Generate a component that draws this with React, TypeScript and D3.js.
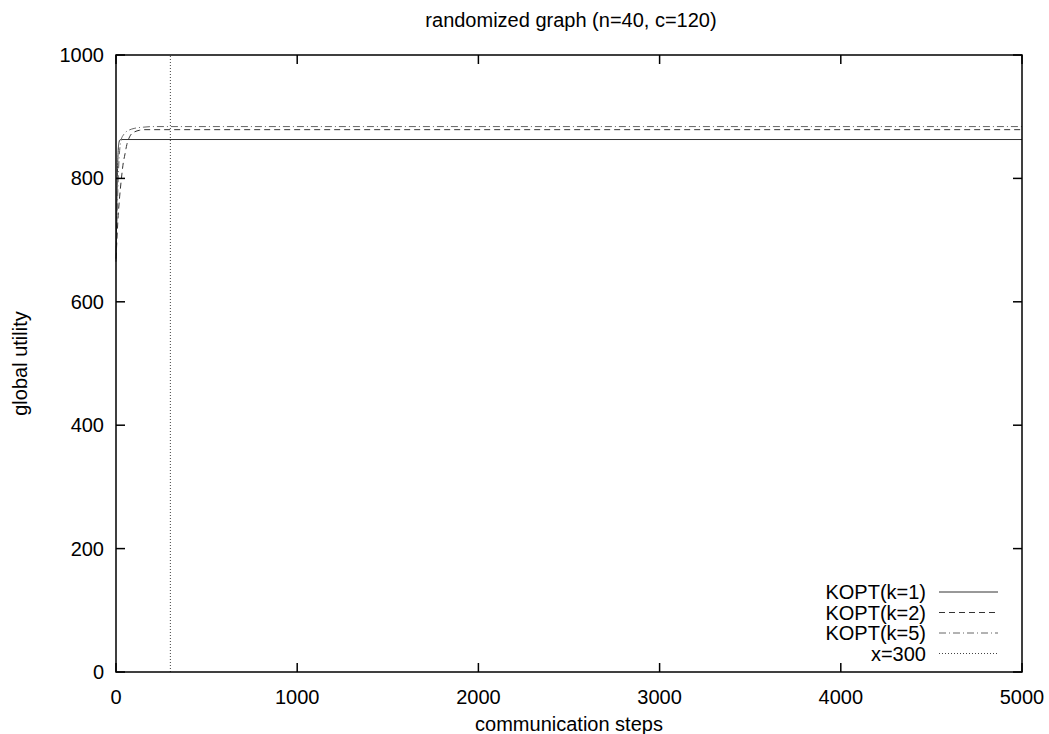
import React, { useEffect, useRef } from "react";
import * as d3 from "d3";

// communication step / global utility samples
const k1Steps = [0, 2, 4, 6, 8, 10, 12, 14, 17, 20, 25, 30, 5000];
const k1Values = [665, 700, 740, 780, 810, 830, 845, 853, 859, 862, 863, 863, 863];
const k2Steps = [0, 5, 10, 20, 30, 40, 50, 55, 60, 70, 80, 100, 130, 160, 5000];
const k2Values = [670, 700, 730, 770, 800, 825, 840, 848, 855, 864, 870, 875, 878, 879, 879];
const k5Steps = [0, 5, 10, 15, 20, 25, 30, 40, 50, 70, 100, 150, 200, 5000];
const k5Values = [680, 730, 780, 820, 845, 857, 864, 870, 874, 878, 881, 883, 884, 884];
const cutoff = 300;

const xTicks = [0, 1000, 2000, 3000, 4000, 5000];
const yTicks = [0, 200, 400, 600, 800, 1000];

const seriesList = [
  { label: "KOPT(k=1)", steps: k1Steps, values: k1Values, dash: null, color: "#333" },
  { label: "KOPT(k=2)", steps: k2Steps, values: k2Values, dash: "6,4", color: "#333" },
  { label: "KOPT(k=5)", steps: k5Steps, values: k5Values, dash: "7,3,1,3", color: "#666" },
];

export default function App() {
  const svgRef = useRef<SVGSVGElement>(null);

  useEffect(() => {
    const W = 1049;
    const H = 734;
    const m = { left: 116, right: 1022, top: 55, bottom: 672 };
    const font = "'Liberation Sans', Arial, sans-serif";
    const fs = 20;

    d3.select(svgRef.current).selectAll("*").remove();
    const svg = d3
      .select(svgRef.current)
      .attr("width", W)
      .attr("height", H)
      .style("font-family", font);

    const x = d3.scaleLinear().domain([0, 5000]).range([m.left, m.right]);
    const y = d3.scaleLinear().domain([0, 1000]).range([m.bottom, m.top]);

    svg.append("rect").attr("width", W).attr("height", H).attr("fill", "#fff");

    // x = 300 marker
    svg
      .append("line")
      .attr("x1", x(cutoff))
      .attr("x2", x(cutoff))
      .attr("y1", y(0))
      .attr("y2", y(1000))
      .attr("stroke", "#444")
      .attr("stroke-dasharray", "1,2");

    seriesList.forEach((s) => {
      const gen = d3
        .line<number>()
        .x((d, i) => x(s.steps[i]))
        .y((d) => y(d))
        .curve(d3.curveMonotoneX);
      svg
        .append("path")
        .attr("d", gen(s.values))
        .attr("fill", "none")
        .attr("stroke", s.color)
        .attr("stroke-width", 1)
        .attr("stroke-dasharray", s.dash);
    });

    // frame
    svg
      .append("rect")
      .attr("x", m.left)
      .attr("y", m.top)
      .attr("width", m.right - m.left)
      .attr("height", m.bottom - m.top)
      .attr("fill", "none")
      .attr("stroke", "#000")
      .attr("stroke-width", 1.5);

    const tl = 9;
    // ticks go inward and are mirrored on top and right
    xTicks.forEach((t) => {
      svg.append("line").attr("x1", x(t)).attr("x2", x(t)).attr("y1", m.bottom).attr("y2", m.bottom - tl).attr("stroke", "#000").attr("stroke-width", 1.5);
      svg.append("line").attr("x1", x(t)).attr("x2", x(t)).attr("y1", m.top).attr("y2", m.top + tl).attr("stroke", "#000").attr("stroke-width", 1.5);
      svg
        .append("text")
        .attr("x", x(t))
        .attr("y", m.bottom + 32)
        .attr("text-anchor", "middle")
        .attr("font-size", fs)
        .text(t);
    });
    yTicks.forEach((t) => {
      svg.append("line").attr("x1", m.left).attr("x2", m.left + tl).attr("y1", y(t)).attr("y2", y(t)).attr("stroke", "#000").attr("stroke-width", 1.5);
      svg.append("line").attr("x1", m.right).attr("x2", m.right - tl).attr("y1", y(t)).attr("y2", y(t)).attr("stroke", "#000").attr("stroke-width", 1.5);
      svg
        .append("text")
        .attr("x", m.left - 12)
        .attr("y", y(t) + 7)
        .attr("text-anchor", "end")
        .attr("font-size", fs)
        .text(t);
    });

    svg
      .append("text")
      .attr("x", (m.left + m.right) / 2 + 2)
      .attr("y", 27)
      .attr("text-anchor", "middle")
      .attr("font-size", fs)
      .text("randomized graph (n=40, c=120)");

    svg
      .append("text")
      .attr("x", (m.left + m.right) / 2)
      .attr("y", 731)
      .attr("text-anchor", "middle")
      .attr("font-size", fs)
      .text("communication steps");

    svg
      .append("text")
      .attr("transform", `translate(27,${(m.top + m.bottom) / 2}) rotate(-90)`)
      .attr("text-anchor", "middle")
      .attr("font-size", fs)
      .text("global utility");

    // legend
    const legend = [
      ...seriesList.map((s) => ({ label: s.label, dash: s.dash, color: s.color })),
      { label: "x=300", dash: "1,2", color: "#444" },
    ];
    legend.forEach((l, i) => {
      const ly = 592 + i * 20.5;
      svg
        .append("text")
        .attr("x", 926)
        .attr("y", ly + 7)
        .attr("text-anchor", "end")
        .attr("font-size", fs)
        .text(l.label);
      svg
        .append("line")
        .attr("x1", 939)
        .attr("x2", 998)
        .attr("y1", ly)
        .attr("y2", ly)
        .attr("stroke", l.color)
        .attr("stroke-dasharray", l.dash);
    });
  }, []);

  return (
    <div>
      <svg ref={svgRef} style={{ display: "block", position: "absolute", left: 0, top: 0 }}></svg>
    </div>
  );
}
